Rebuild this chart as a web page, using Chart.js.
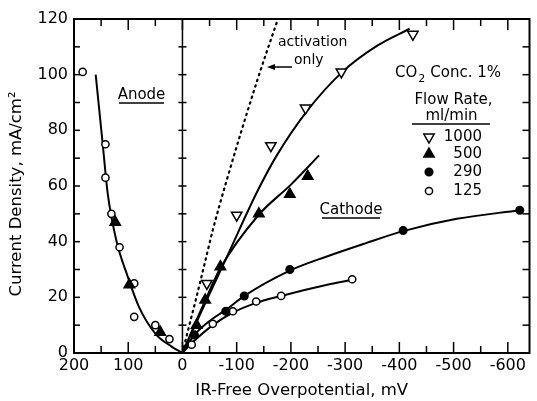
<!DOCTYPE html>
<html>
<head>
<meta charset="utf-8">
<script src="https://cdn.jsdelivr.net/npm/chart.js@4.4.0/dist/chart.umd.min.js"></script>
<style>
  html, body { margin: 0; padding: 0; background: #fff; }
</style>
</head>
<body>
<canvas id="myChart" width="537" height="401"></canvas>
<script>
// measured points, x = IR-free overpotential (mV), y = current density (mA/cm2)
var x125 = [184, 142, 142, 131, 116, 89, 89, 50, 24, -17, -56, -93, -136, -182, -313];
var y125 = [101, 75, 63, 50, 38, 25, 13, 10, 5, 3, 10.5, 15, 18.5, 20.5, 26.5];

var x500 = [124, 98, 41, -26, -42, -70, -141, -198, -231];
var y500 = [47, 24.5, 7.5, 10, 19, 31, 50, 57, 63.5];

var x290 = [-22, -80, -114, -198, -407, -622];
var y290 = [6.5, 15, 20.5, 30, 44, 51.3];

var x1000 = [-45, -100, -163, -227, -293, -425];
var y1000 = [25, 49.5, 74.5, 88, 101, 114.5];

// fitted curves
var anodeX = [160, 147, 138, 122, 101, 80, 50, 20, 0];
var anodeY = [100, 75, 57.5, 40.5, 27.5, 16.5, 7, 2.3, 0];

var curve1000X = [0, -40, -83, -138, -174, -230, -295, -360, -419];
var curve1000Y = [0, 17, 35, 58, 71, 87, 101, 110.5, 116.5];

var curve500X = [0, -40, -70, -140, -200, -252];
var curve500Y = [0, 18, 30.5, 49.5, 60.5, 71];

var curve290X = [0, -20, -50, -80, -114, -198, -265, -337, -407, -506, -622];
var curve290Y = [0, 6, 11.5, 15.5, 20.5, 29.6, 34.6, 39.4, 43.8, 48.2, 51.3];

var curve125X = [0, -17, -56, -93, -136, -182, -265, -313];
var curve125Y = [0, 3.5, 10, 14.5, 18, 20.5, 24.4, 26.3];

var activationX = [0, -10.5, -26, -41, -56, -80, -138, -176];
var activationY = [0, 8.3, 20.2, 32.2, 44.2, 61, 98, 120];

var legendLabels = ['1000', '500', '290', '125'];

var FONT = 'DejaVu Sans';

function pts(xs, ys) {
    return xs.map(function (x, i) { return {x: x, y: ys[i]}; });
}

function curve(xs, ys) {
    return {
        data: pts(xs, ys),
        showLine: true,
        borderColor: '#000',
        borderWidth: 2,
        pointRadius: 0,
        pointHoverRadius: 0,
        cubicInterpolationMode: 'monotone',
        fill: false
    };
}

function marks(xs, ys, style, fillClr, radius, rot) {
    return {
        data: pts(xs, ys),
        showLine: false,
        pointStyle: style,
        pointRadius: radius,
        pointHoverRadius: radius,
        pointRotation: rot || 0,
        pointBackgroundColor: fillClr,
        pointBorderColor: '#000',
        pointBorderWidth: 1.5
    };
}

function line(ctx, x1, y1, x2, y2) {
    ctx.beginPath();
    ctx.moveTo(x1, y1);
    ctx.lineTo(x2, y2);
    ctx.stroke();
}

var decor = {
    id: 'decor',
    beforeDatasetsDraw: function (chart) {
        var ctx = chart.ctx, a = chart.chartArea;
        var xs = chart.scales.x, ys = chart.scales.y;
        ctx.save();
        ctx.strokeStyle = '#000';
        ctx.lineWidth = 2;
        ctx.strokeRect(a.left, a.top, a.right - a.left, a.bottom - a.top);
        ctx.lineWidth = 1.5;
        xs.ticks.forEach(function (t) {
            var px = xs.getPixelForValue(t.value);
            var len = t.value % 100 === 0 ? 11 : 7;
            line(ctx, px, a.bottom, px, a.bottom - len);
            line(ctx, px, a.top, px, a.top + len);
        });
        var x0 = xs.getPixelForValue(0);
        ys.ticks.forEach(function (t) {
            var py = ys.getPixelForValue(t.value);
            line(ctx, a.left, py, a.left + 6, py);
            line(ctx, a.right, py, a.right - 7, py);
            line(ctx, x0 - 4, py, x0 + 4, py);
        });
        line(ctx, x0, a.top, x0, a.bottom);
        ctx.restore();
    },
    afterDatasetsDraw: function (chart) {
        var ctx = chart.ctx;
        ctx.save();
        ctx.fillStyle = '#000';
        ctx.strokeStyle = '#000';
        ctx.textBaseline = 'middle';
        ctx.lineWidth = 1.5;

        // y axis title
        ctx.save();
        ctx.translate(17, 194);
        ctx.rotate(-Math.PI / 2);
        ctx.textAlign = 'center';
        ctx.font = '16.5px "' + FONT + '"';
        ctx.fillText('Current Density, mA/cm²', 0, 0);
        ctx.restore();

        ctx.font = '15px "' + FONT + '"';
        ctx.textAlign = 'center';
        ctx.fillText('Anode', 141.5, 95);
        line(ctx, 119, 103, 164, 103);
        ctx.fillText('Cathode', 351, 210);
        line(ctx, 322, 218, 380, 218);

        ctx.font = '14px "' + FONT + '"';
        ctx.textAlign = 'left';
        ctx.fillText('activation', 278, 42);
        ctx.fillText('only', 294, 60);
        line(ctx, 292, 67, 272, 67);
        ctx.beginPath();
        ctx.moveTo(267, 67);
        ctx.lineTo(275, 64);
        ctx.lineTo(275, 70);
        ctx.closePath();
        ctx.fill();

        ctx.font = '15px "' + FONT + '"';
        ctx.fillText('CO', 395, 73);
        var w = ctx.measureText('CO').width;
        ctx.font = '11px "' + FONT + '"';
        ctx.fillText('2', 395 + w + 1, 79);
        ctx.font = '15px "' + FONT + '"';
        ctx.fillText('Conc. 1%', 395 + w + 13, 73);

        ctx.textAlign = 'center';
        ctx.fillText('Flow Rate,', 453.5, 100);
        ctx.fillText('ml/min', 451.5, 116);
        line(ctx, 412, 124, 490, 124);

        // legend symbols use the same styles as the datasets
        var ds = chart.data.datasets;
        var rowsY = [137, 154, 172, 191];
        ctx.textAlign = 'right';
        for (var i = 0; i < 4; i++) {
            var d = ds[i];
            ctx.fillStyle = d.pointBackgroundColor;
            ctx.strokeStyle = '#000';
            ctx.lineWidth = d.pointBorderWidth;
            Chart.helpers.drawPoint(ctx, {
                pointStyle: d.pointStyle,
                radius: d.pointRadius,
                rotation: d.pointRotation,
                borderWidth: d.pointBorderWidth
            }, 429, rowsY[i]);
            ctx.fillStyle = '#000';
            ctx.fillText(legendLabels[i], 482, rowsY[i]);
        }
        ctx.restore();
    }
};

var activation = curve(activationX, activationY);
activation.borderDash = [1.5, 4.5];
activation.borderWidth = 2.2;
activation.borderCapStyle = 'round';

var myChart = new Chart(document.getElementById('myChart').getContext('2d'), {
    type: 'scatter',
    data: {
        datasets: [
            marks(x1000, y1000, 'triangle', '#fff', 6, 180),
            marks(x500, y500, 'triangle', '#000', 6, 0),
            marks(x290, y290, 'circle', '#000', 3.8, 0),
            marks(x125, y125, 'circle', '#fff', 3.6, 0),
            curve(anodeX, anodeY),
            curve(curve1000X, curve1000Y),
            curve(curve500X, curve500Y),
            curve(curve290X, curve290Y),
            curve(curve125X, curve125Y),
            activation
        ]
    },
    options: {
        responsive: false,
        animation: false,
        events: [],
        layout: { padding: { top: 19, right: 1, left: 0, bottom: 0 } },
        plugins: { legend: { display: false }, tooltip: { enabled: false } },
        scales: {
            x: {
                type: 'linear',
                reverse: true,
                min: -640,
                max: 200,
                grid: { display: false, drawTicks: false },
                border: { display: false },
                ticks: {
                    stepSize: 50,
                    includeBounds: false,
                    autoSkip: false,
                    maxRotation: 0,
                    padding: 3,
                    color: '#000',
                    font: { family: FONT, size: 16 },
                    callback: function (v) { return v % 100 === 0 ? String(v) : ''; }
                },
                title: {
                    display: true,
                    text: 'IR-Free Overpotential, mV',
                    color: '#000',
                    font: { family: FONT, size: 16.5 },
                    padding: { top: 8, bottom: 0 }
                },
                afterFit: function (s) { s.height = 48; }
            },
            y: {
                min: 0,
                max: 120,
                grid: { display: false, drawTicks: false },
                border: { display: false },
                ticks: {
                    stepSize: 10,
                    autoSkip: false,
                    padding: 6,
                    color: '#000',
                    font: { family: FONT, size: 16 },
                    callback: function (v) { return v % 20 === 0 ? String(v) : ''; }
                },
                title: { display: false },
                afterFit: function (s) { s.width = 74; }
            }
        }
    },
    plugins: [decor]
});
</script>
</body>
</html>
